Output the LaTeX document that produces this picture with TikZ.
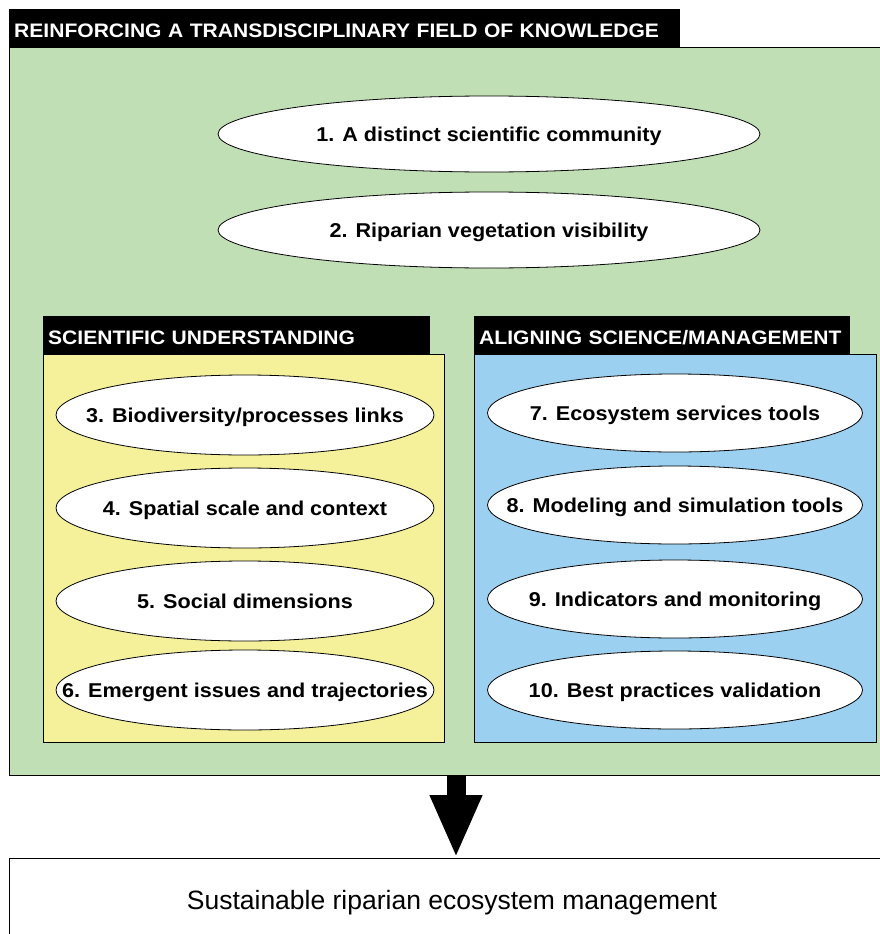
\documentclass[tikz,border=0pt]{standalone}
\usepackage{fontspec}
\setmainfont{Liberation Sans}
\newfontfamily\wideface[FakeStretch=1.08]{Liberation Sans}
\usetikzlibrary{arrows.meta,shapes.geometric}
\definecolor{fieldgreen}{RGB}{192,223,180}
\definecolor{sciyellow}{RGB}{245,241,154}
\definecolor{mgmtblue}{RGB}{155,208,240}
\tikzset{
  panel/.style={draw=black,line width=1.2pt,anchor=north west,inner sep=0pt},
  tab/.style={fill=black,text=white,anchor=south west,inner xsep=5pt,inner ysep=0pt,align=left,
    text height=18pt,text depth=0pt,font=\wideface\fontsize{19.5}{21}\selectfont\bfseries},
  issue/.style={shape=ellipse,draw=black,fill=white,line width=0.8pt,inner xsep=-90pt,inner ysep=-10pt,
    text height=14.3pt,text depth=0pt,font=\wideface\fontsize{20}{22}\selectfont\bfseries}
}
\begin{document}
\begin{tikzpicture}[x=1pt,y=-1pt]
                \useasboundingbox (0,0) rectangle (880,934);
                % outer field and its title
                \node[panel,fill=fieldgreen,minimum width=880,minimum height=728](field)at(9, 47){};
                \node[tab,minimum width=671,minimum height=39,text width=661](fieldtab)at(9, 48){REINFORCING A TRANSDISCIPLINARY FIELD OF KNOWLEDGE};
                \node[issue,minimum width=542,minimum height=76](1)at(489, 134){1. A distinct scientific community};
                \node[issue,minimum width=542,minimum height=76](2)at(489, 230){2. Riparian vegetation visibility};
                % scientific understanding
                \node[panel,fill=sciyellow,minimum width=401,minimum height=388](sci)at(43, 354){};
                \node[tab,minimum width=387,minimum height=39,text width=377](scitab)at(43, 355){SCIENTIFIC UNDERSTANDING};
                \node[issue,minimum width=378,minimum height=80](3)at(245, 415){3. Biodiversity/processes links};
                \node[issue,minimum width=378,minimum height=80](4)at(245, 508){4. Spatial scale and context};
                \node[issue,minimum width=378,minimum height=80](5)at(245, 601){5. Social dimensions};
                \node[issue,minimum width=378,minimum height=80](6)at(245, 690){6. Emergent issues and trajectories};
                % aligning science and management
                \node[panel,fill=mgmtblue,minimum width=402,minimum height=388](mgmt)at(474, 354){};
                \node[tab,minimum width=376,minimum height=39,text width=366](mgmttab)at(474, 355){ALIGNING SCIENCE/MANAGEMENT};
                \node[issue,minimum width=375,minimum height=78](7)at(675, 413){7. Ecosystem services tools};
                \node[issue,minimum width=375,minimum height=78](8)at(675, 505){8. Modeling and simulation tools};
                \node[issue,minimum width=375,minimum height=78](9)at(675, 599){9. Indicators and monitoring};
                \node[issue,minimum width=375,minimum height=78](10)at(675, 690){10. Best practices validation};
                % outcome
                \node[panel,fill=white,minimum width=880,minimum height=90](outcome)at(9, 858){};
                \node[text height=19pt,text depth=0pt,font=\fontsize{26.5}{28}\selectfont](outcometext)at(452, 900){Sustainable riparian ecosystem management};
                \coordinate(arrowtop)at(456, 775);
                \draw[line width=19pt,-{Triangle[length=63pt,width=48pt]}](arrowtop) -- (arrowtop |- outcome.north);
            \end{tikzpicture}
\end{document}
